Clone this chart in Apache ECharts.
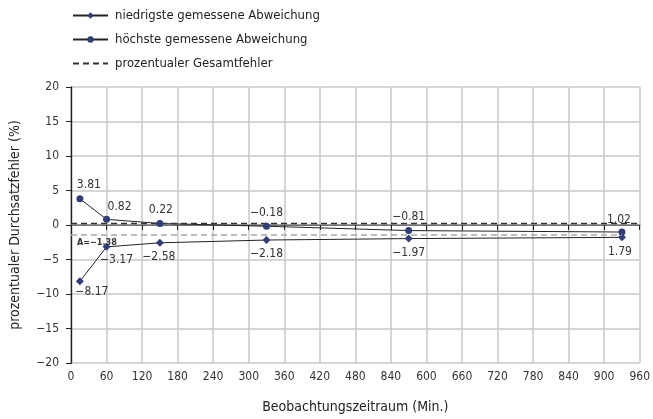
<!DOCTYPE html>
<html>
<head>
<meta charset="utf-8">
<script src="https://cdn.jsdelivr.net/npm/echarts@6/dist/echarts.min.js"></script>
<style>
  html, body { margin: 0; padding: 0; background: #fff; }
  #chart { width: 653px; height: 419px; }
</style>
</head>
<body>
<div id="chart"></div>
<script>
// Beobachtungszeitpunkte (Min.)
const minutes = [15, 60, 150, 330, 570, 930];
// niedrigste / höchste gemessene Abweichung (%)
const lowValues = [-8.17, -3.17, -2.58, -2.18, -1.97, -1.79];
const highValues = [3.81, 0.82, 0.22, -0.18, -0.81, -1.02];
// Beschriftungen an den Messpunkten
const lowLabels = ['\u22128.17', '\u22123.17', '\u22122.58', '\u22122.18', '\u22121.97', '1.79'];
const highLabels = ['3.81', '0.82', '0.22', '\u22120.18', '\u22120.81', '1.02'];
// prozentualer Gesamtfehler und Mittelwert A
const totalError = 0.2;
const meanA = -1.38;
// Beschriftung der x-Achse
const xTickLabels = ['0', '60', '120', '180', '240', '300', '360', '420', '480', '840',
  '600', '660', '720', '780', '840', '900', '960'];

const FONT = '"Liberation Sans Narrow", "DejaVu Sans Condensed", "Liberation Sans", sans-serif';
const NAVY = '#2f3d7b';
const LINE = '#222';

const fmtMinus = v => String(v).replace('-', '\u2212');

// Platzierung der Wertebeschriftungen je Punkt
const highLabelPos = [
  { position: 'top', offset: [9, 0] },
  { position: 'top', offset: [13, 1] },
  { position: 'top', offset: [1, 0] },
  { position: 'top', offset: [0, 0] },
  { position: 'top', offset: [0, 0] },
  { position: 'top', offset: [-3, 1] }
];
const lowLabelPos = [
  { position: 'bottom', offset: [12, -3] },
  { position: 'bottom', offset: [10, -1] },
  { position: 'bottom', offset: [-1, 0] },
  { position: 'bottom', offset: [0, 0] },
  { position: 'bottom', offset: [0, 0] },
  { position: 'bottom', offset: [-2, 1] }
];

function buildData(values, labels, placement) {
  return minutes.map((m, i) => ({
    value: [m, values[i]],
    label: Object.assign({ formatter: labels[i] }, placement[i])
  }));
}

const chart = echarts.init(document.getElementById('chart'), null, { renderer: 'canvas' });

const labelStyle = { show: true, fontFamily: FONT, fontSize: 12, color: '#333', distance: 4 };

chart.setOption({
  animation: false,
  textStyle: { fontFamily: FONT },
  legend: {
    orient: 'vertical',
    left: 67,
    top: 4,
    itemWidth: 35,
    itemHeight: 8,
    itemGap: 11,
    textStyle: { fontFamily: FONT, fontSize: 13, color: '#222', padding: [0, 0, 0, 2] },
    data: [
      { name: 'niedrigste gemessene Abweichung' },
      { name: 'höchste gemessene Abweichung' },
      { name: 'prozentualer Gesamtfehler', itemStyle: { opacity: 0 } }
    ]
  },
  grid: { left: 68, right: 7, top: 87, bottom: 48, containLabel: false },
  xAxis: [{
    type: 'value',
    min: 0,
    max: 960,
    interval: 60,
    name: 'Beobachtungszeitraum (Min.)',
    nameLocation: 'middle',
    nameGap: 37,
    nameTextStyle: { fontFamily: FONT, fontSize: 14, color: '#222' },
    axisLine: { lineStyle: { color: '#222', width: 1.2 } },
    axisTick: { show: true, length: 5, lineStyle: { color: '#222' } },
    axisLabel: {
      fontFamily: FONT, fontSize: 12, color: '#333', margin: 8,
      formatter: v => xTickLabels[Math.round(v / 60)]
    },
    splitLine: { show: true, lineStyle: { color: '#c8c8c8', width: 1.5 } }
  }, {
    type: 'value',
    position: 'top',
    min: 0,
    max: 960,
    interval: 60,
    axisLine: { show: true, lineStyle: { color: '#8a8a8a', width: 1.5 } },
    axisTick: { show: false },
    axisLabel: { show: false },
    splitLine: { show: false }
  }],
  yAxis: [{
    type: 'value',
    min: -20,
    max: 20,
    interval: 5,
    name: 'prozentualer Durchsatzfehler (%)',
    nameLocation: 'middle',
    nameGap: 49,
    nameTextStyle: { fontFamily: FONT, fontSize: 14, color: '#222' },
    axisLine: { show: true, lineStyle: { color: '#222', width: 1.2 } },
    axisTick: { show: true, length: 5, lineStyle: { color: '#222' } },
    axisLabel: { fontFamily: FONT, fontSize: 12, color: '#333', margin: 12, formatter: fmtMinus },
    splitLine: { show: true, lineStyle: { color: '#c8c8c8', width: 1.5 } }
  }, {
    type: 'value',
    position: 'right',
    min: -20,
    max: 20,
    interval: 5,
    axisLine: { show: true, lineStyle: { color: '#222', width: 1.2 } },
    axisTick: { show: false },
    axisLabel: { show: false },
    splitLine: { show: false }
  }],
  series: [{
    name: 'niedrigste gemessene Abweichung',
    type: 'line',
    xAxisIndex: 0,
    yAxisIndex: 0,
    symbol: 'diamond',
    symbolSize: 8,
    itemStyle: { color: NAVY },
    lineStyle: { color: LINE, width: 1 },
    label: labelStyle,
    emphasis: { disabled: true },
    data: buildData(lowValues, lowLabels, lowLabelPos),
    markLine: {
      silent: true,
      symbol: 'none',
      lineStyle: { color: '#a8a8a8', type: [6, 4], width: 1.5 },
      label: {
        show: true,
        position: 'insideStartBottom',
        formatter: 'A=\u22121.38',
        fontFamily: FONT,
        fontSize: 9,
        fontWeight: 'bold',
        color: '#333',
        offset: [2, 0],
        distance: 4
      },
      data: [[{ coord: [0, meanA] }, { coord: [minutes[minutes.length - 1], meanA] }]]
    }
  }, {
    name: 'höchste gemessene Abweichung',
    type: 'line',
    xAxisIndex: 0,
    yAxisIndex: 0,
    symbol: 'circle',
    symbolSize: 7,
    itemStyle: { color: NAVY },
    lineStyle: { color: LINE, width: 1 },
    label: labelStyle,
    emphasis: { disabled: true },
    data: buildData(highValues, highLabels, highLabelPos)
  }, {
    name: 'prozentualer Gesamtfehler',
    type: 'line',
    xAxisIndex: 0,
    yAxisIndex: 0,
    symbol: 'none',
    itemStyle: { color: '#333' },
    lineStyle: { color: '#333', width: 1.5, type: [6, 4] },
    emphasis: { disabled: true },
    data: [[0, totalError], [960, totalError]]
  }]
});
</script>
</body>
</html>
